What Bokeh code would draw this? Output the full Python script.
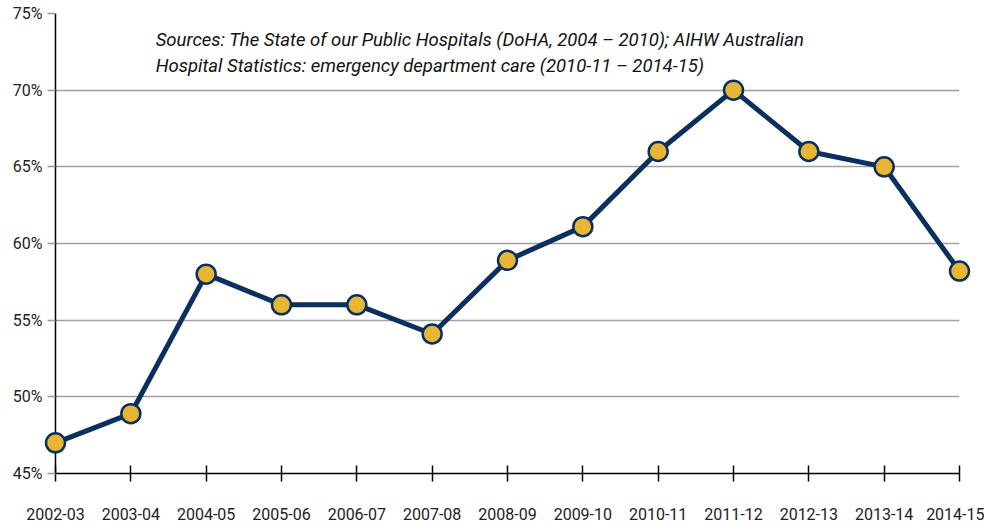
from bokeh.plotting import figure
from bokeh.models import Range1d, FixedTicker, Label, ColumnDataSource
from bokeh.embed import file_html
from bokeh.resources import INLINE

categories = ["2002-03", "2003-04", "2004-05", "2005-06", "2006-07", "2007-08",
              "2008-09", "2009-10", "2010-11", "2011-12", "2012-13", "2013-14", "2014-15"]
values = [47.0, 48.9, 58.0, 56.0, 56.0, 54.1, 58.9, 61.1, 66.0, 70.0, 66.0, 65.0, 58.2]
y_ticks = [45, 50, 55, 60, 65, 70, 75]
y_labels = ["45%", "50%", "55%", "60%", "65%", "70%", "75%"]
source_note = ("Sources: The State of our Public Hospitals (DoHA, 2004 \u2013 2010); AIHW Australian\n"
               "Hospital Statistics: emergency department care (2010-11 \u2013 2014-15)")

FONT = "Roboto"
NAVY = "#0b2f5e"
GOLD = "#e6b634"

xs = list(range(len(categories)))
src = ColumnDataSource(dict(x=xs, y=values))

p = figure(frame_width=904, frame_height=460, output_backend="svg", toolbar_location=None,
           x_range=Range1d(0, len(categories) - 1), y_range=Range1d(45, 75),
           min_border_left=55, min_border_right=25, min_border_top=13, min_border_bottom=0)
p.outline_line_color = None
p.background_fill_color = "white"
p.border_fill_color = "white"

ln = p.line("x", "y", source=src, line_color=NAVY, line_width=5)
sc = p.scatter("x", "y", source=src, size=19, fill_color=GOLD, line_color=NAVY, line_width=2.5)
ln.level = "overlay"
sc.level = "overlay"

# x axis
xa = p.xaxis[0]
xa.ticker = FixedTicker(ticks=xs)
xa.major_label_overrides = {i: c for i, c in enumerate(categories)}
xa.axis_line_color = "black"
xa.axis_line_width = 1.5
xa.major_tick_in = 8
xa.major_tick_out = 8
xa.major_tick_line_color = "black"
xa.major_tick_line_width = 1.5
xa.minor_tick_line_color = None
xa.major_label_standoff = 26
xa.major_label_text_font = FONT
xa.major_label_text_font_size = "16px"
xa.major_label_text_color = "#222222"

# y axis
ya = p.yaxis[0]
ya.ticker = FixedTicker(ticks=y_ticks)
ya.major_label_overrides = {t: l for t, l in zip(y_ticks, y_labels)}
ya.axis_line_color = "black"
ya.axis_line_width = 1.5
ya.major_tick_in = 0
ya.major_tick_out = 8
ya.major_tick_line_color = "#999999"
ya.major_tick_line_width = 1.5
ya.minor_tick_line_color = None
ya.major_label_standoff = 5
ya.major_label_text_font = FONT
ya.major_label_text_font_size = "16px"
ya.major_label_text_color = "#222222"

p.xgrid.grid_line_color = None
p.ygrid.grid_line_color = "#a0a0a0"
p.ygrid.grid_line_width = 1.5

note = Label(x=1.33, y=74.0, text=source_note, text_font=FONT, text_font_style="italic",
             text_font_size="18.5px", text_color="#111111", text_baseline="top",
             text_line_height=1.2)
p.add_layout(note)

open("out.html", "w").write(file_html(p, INLINE))
